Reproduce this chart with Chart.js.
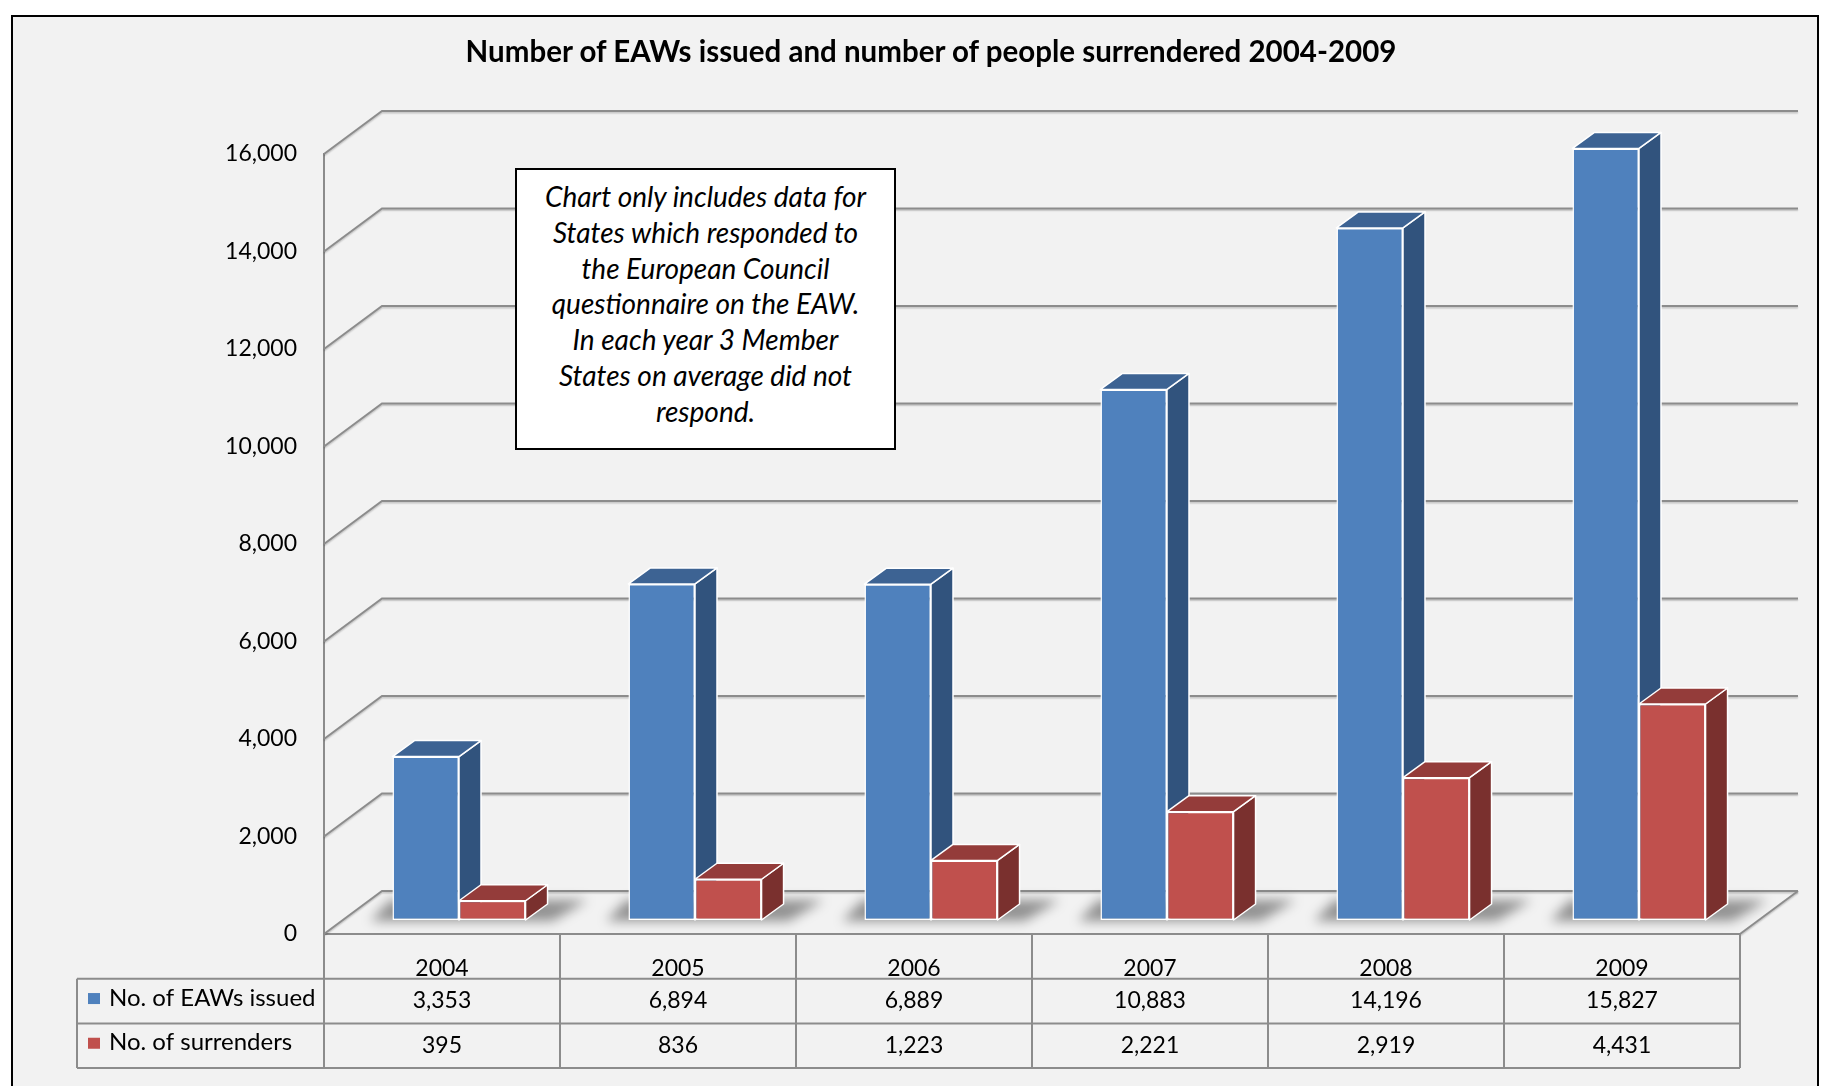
<!DOCTYPE html>
<html>
<head>
<meta charset="utf-8">
<title>EAWs issued and people surrendered 2004-2009</title>
<script src="https://cdn.jsdelivr.net/npm/chart.js@4.4.1/dist/chart.umd.min.js"></script>
<style>
  html, body { margin: 0; padding: 0; background: #fff; overflow: hidden; }
  body { width: 1834px; height: 1086px; position: relative; font-family: Lato, "Open Sans", sans-serif; }
  #frame {
    position: absolute; left: 11px; top: 15px; width: 1808px; height: 1120px;
    box-sizing: border-box; border: 2px solid #000; background: #f2f2f2;
  }
  #chart { position: absolute; left: 0; top: 0; }
  #title {
    position: absolute; left: 931px; top: 34px; transform: translateX(-50%);
    white-space: nowrap; font-weight: bold; font-size: 29.5px; line-height: 34px; color: #000;
  }
  #note {
    position: absolute; left: 515px; top: 168px; width: 381px; height: 282px;
    box-sizing: border-box; border: 2px solid #000; background: #fff;
    padding-top: 9px; text-align: center; font-style: italic; font-size: 28px;
    line-height: 35.8px; color: #000;
  }
</style>
</head>
<body>
<div id="frame"></div>
<canvas id="chart" width="1834" height="1086"></canvas>
<div id="title">Number of EAWs issued and number of people surrendered 2004-2009</div>
<div id="note">Chart only includes data for<br>States which responded to<br>the European Council<br>questionnaire on the EAW.<br>In each year 3 Member<br>States on average did not<br>respond.</div>
<script>
const years = ['2004', '2005', '2006', '2007', '2008', '2009'];
const eawsIssued = [3353, 6894, 6889, 10883, 14196, 15827];
const surrenders = [395, 836, 1223, 2221, 2919, 4431];
const seriesNames = ['No. of EAWs issued', 'No. of surrenders'];

// 3D look
const WALL = { dx: 58, dy: -43 };       // back wall offset from the front axis plane
const BAR_SHIFT = { dx: 17, dy: -14 };  // bar fronts sit a bit into the floor
const BAR_DEPTH = { dx: 22, dy: -16 };  // depth of each box
const frontColors = ['#4F81BD', '#C0504D'];
const topColors = ['#3D6393', '#943C3A'];
const sideColors = ['#31537D', '#7A302E'];
const lineGrey = '#8c8c8c';

function fmt(v) {
  return v.toLocaleString('en-US');
}

function face(ctx, pts, fill) {
  ctx.beginPath();
  ctx.moveTo(pts[0][0], pts[0][1]);
  for (let i = 1; i < pts.length; i++) ctx.lineTo(pts[i][0], pts[i][1]);
  ctx.closePath();
  ctx.fillStyle = fill;
  ctx.fill();
  ctx.stroke();
}

const wall3d = {
  id: 'wall3d',
  beforeDatasetsDraw(chart) {
    const { ctx, chartArea: a, scales: { y } } = chart;

    // gridlines running back onto the wall
    ctx.save();
    ctx.strokeStyle = lineGrey;
    ctx.lineWidth = 2;
    ctx.shadowColor = 'rgba(0,0,0,0.2)';
    ctx.shadowOffsetY = 1.5;
    ctx.shadowBlur = 1.5;
    y.ticks.forEach(t => {
      const py = y.getPixelForValue(t.value);
      ctx.beginPath();
      ctx.moveTo(a.left, py);
      ctx.lineTo(a.left + WALL.dx, py + WALL.dy);
      ctx.lineTo(a.right + WALL.dx, py + WALL.dy);
      ctx.stroke();
    });
    ctx.beginPath();
    ctx.moveTo(a.right, a.bottom);
    ctx.lineTo(a.right + WALL.dx, a.bottom + WALL.dy);
    ctx.stroke();
    ctx.restore();

    const blue = chart.getDatasetMeta(0).data;
    const red = chart.getDatasetMeta(1).data;

    // soft shadows on the floor
    ctx.save();
    ctx.filter = 'blur(6px)';
    ctx.fillStyle = 'rgba(0,0,0,0.4)';
    blue.forEach((b, j) => {
      const r = red[j];
      const l = b.x - b.width / 2 + BAR_SHIFT.dx;
      const rr = r.x + r.width / 2 + BAR_SHIFT.dx + BAR_DEPTH.dx;
      const base = b.base + BAR_SHIFT.dy;
      ctx.beginPath();
      ctx.moveTo(l - 22, base + 1);
      ctx.lineTo(rr + 5, base + 1);
      ctx.lineTo(rr + 40, base - 20);
      ctx.lineTo(l - 2, base - 20);
      ctx.closePath();
      ctx.fill();
    });
    ctx.restore();

    // side and top faces; the fronts are drawn by Chart.js right after
    ctx.save();
    ctx.translate(BAR_SHIFT.dx, BAR_SHIFT.dy);
    ctx.strokeStyle = '#fff';
    ctx.lineWidth = 1.5;
    ctx.lineJoin = 'round';
    [blue, red].forEach((bars, i) => {
      bars.forEach(bar => {
        const l = bar.x - bar.width / 2;
        const r = bar.x + bar.width / 2;
        const t = bar.y;
        const b = bar.base;
        face(ctx, [[r, t], [r + BAR_DEPTH.dx, t + BAR_DEPTH.dy], [r + BAR_DEPTH.dx, b + BAR_DEPTH.dy], [r, b]], sideColors[i]);
        face(ctx, [[l, t], [l + BAR_DEPTH.dx, t + BAR_DEPTH.dy], [r + BAR_DEPTH.dx, t + BAR_DEPTH.dy], [r, t]], topColors[i]);
      });
    });
  },
  afterDatasetsDraw(chart) {
    chart.ctx.restore();
  }
};

const dataTable = {
  id: 'dataTable',
  afterDraw(chart) {
    const { ctx, chartArea: a, scales: { x } } = chart;
    const colW = (a.right - a.left) / years.length;
    const rowH = 44.7;
    const top = a.bottom;
    const legendLeft = 77;
    const rowLines = [top + rowH, top + 2 * rowH, top + 3 * rowH];

    ctx.save();
    ctx.strokeStyle = lineGrey;
    ctx.lineWidth = 2;
    ctx.beginPath();
    for (let k = 0; k <= years.length; k++) {
      const px = a.left + k * colW;
      ctx.moveTo(px, top);
      ctx.lineTo(px, rowLines[2]);
    }
    rowLines.forEach(ry => {
      ctx.moveTo(legendLeft, ry);
      ctx.lineTo(a.right, ry);
    });
    ctx.moveTo(legendLeft, rowLines[0]);
    ctx.lineTo(legendLeft, rowLines[2]);
    ctx.stroke();

    ctx.textBaseline = 'middle';
    [eawsIssued, surrenders].forEach((vals, i) => {
      const cy = top + rowH * (i + 1.5);
      ctx.fillStyle = frontColors[i];
      ctx.fillRect(88, cy - 8, 12, 11);
      ctx.fillStyle = '#000';
      ctx.textAlign = 'left';
      ctx.font = '24px Lato, "Open Sans", sans-serif';
      ctx.fillText(seriesNames[i], 109, cy - 3);
      ctx.textAlign = 'center';
      ctx.font = '23px Lato, "Open Sans", sans-serif';
      vals.forEach((v, j) => ctx.fillText(fmt(v), x.getPixelForValue(j), cy));
    });
    ctx.restore();
  }
};

new Chart(document.getElementById('chart'), {
  type: 'bar',
  data: {
    labels: years,
    datasets: [
      {
        label: seriesNames[0],
        data: eawsIssued,
        backgroundColor: frontColors[0],
        borderColor: '#fff',
        borderWidth: 1.5,
        borderSkipped: false,
        clip: false
      },
      {
        label: seriesNames[1],
        data: surrenders,
        backgroundColor: frontColors[1],
        borderColor: '#fff',
        borderWidth: 1.5,
        borderSkipped: false,
        clip: false
      }
    ]
  },
  options: {
    responsive: false,
    animation: false,
    layout: { padding: { left: 0, top: 154, right: 94, bottom: 0 } },
    datasets: { bar: { categoryPercentage: 0.564, barPercentage: 1 } },
    plugins: { legend: { display: false }, tooltip: { enabled: false }, title: { display: false } },
    scales: {
      x: {
        grid: { display: false, drawTicks: false },
        border: { display: true, color: lineGrey, width: 2 },
        ticks: { color: '#000', padding: 21, font: { family: 'Lato', size: 23 } },
        afterFit(scale) { scale.height = 152; }
      },
      y: {
        min: 0,
        max: 16000,
        grid: { display: false, drawTicks: false },
        border: { display: true, color: lineGrey, width: 2 },
        ticks: {
          stepSize: 2000,
          color: '#000',
          padding: 27,
          font: { family: 'Lato', size: 23 },
          callback: v => fmt(v)
        },
        afterFit(scale) { scale.width = 324; }
      }
    }
  },
  plugins: [wall3d, dataTable]
});
</script>
</body>
</html>
